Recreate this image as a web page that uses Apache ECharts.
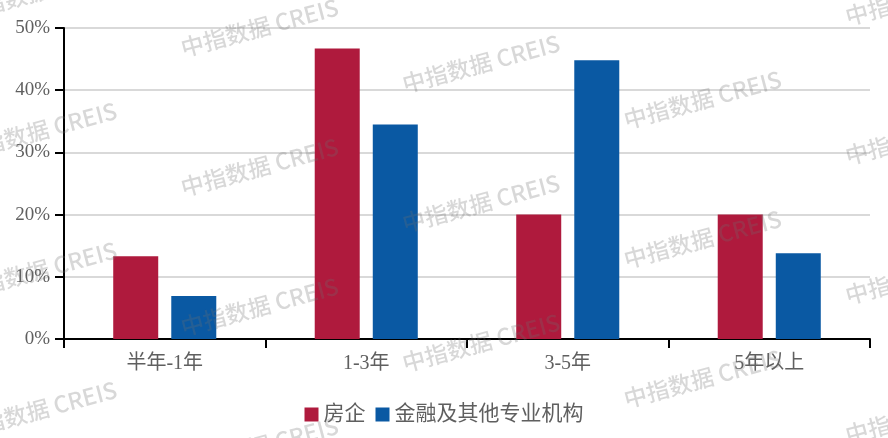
<!DOCTYPE html>
<html>
<head>
<meta charset="utf-8">
<script src="https://cdn.jsdelivr.net/npm/echarts@6/dist/echarts.min.js"></script>
<style>html,body{margin:0;padding:0;background:#fff}#c{width:888px;height:438px}</style>
</head>
<body>
<div id="c"></div>
<script>
const categories = ['半年-1年', '1-3年', '3-5年', '5年以上'];
const seriesNames = ['房企', '金融及其他专业机构'];
const developerValues = [13.3, 46.7, 20.0, 20.0];
const financeValues = [6.9, 34.5, 44.8, 13.8];
const yTicks = [0, 10, 20, 30, 40, 50];
const watermarkText = '中指数据 CREIS';

const chart = echarts.init(document.getElementById('c'), null, {renderer: 'canvas'});

const marks = [];
for (let col = 0; col < 5; col++) {
  for (let row = -1; row < 4; row++) {
    const cx = 38 + 221.5 * col;
    const cy = 27.5 + 36 * (col - 1) + 139.5 * row;
    marks.push({
      type: 'text', x: cx, y: cy, rotation: 15 * Math.PI / 180, z: 100, silent: true,
      style: {text: watermarkText, x: 0, y: 0, align: 'center', verticalAlign: 'middle',
        fill: 'rgba(110,110,110,0.27)', font: '500 23px "Noto Sans CJK SC", "Noto Sans", sans-serif'}
    });
  }
}

const serifFont = '"Liberation Serif", "Noto Sans CJK SC", serif';

chart.setOption({
  animation: false,
  backgroundColor: '#fff',
  grid: {left: 64, right: 18, top: 28, bottom: 99, containLabel: false},
  legend: {
    data: seriesNames, bottom: 8, left: 'center', icon: 'rect', itemWidth: 14, itemHeight: 14, itemGap: 10,
    textStyle: {fontFamily: serifFont, fontSize: 21, color: '#5f5f5f'}
  },
  xAxis: {
    type: 'category', data: categories,
    axisLine: {lineStyle: {color: '#000', width: 2}},
    axisTick: {show: true, length: 9, lineStyle: {color: '#000', width: 2}},
    axisLabel: {fontFamily: serifFont, fontSize: 20, color: '#5f5f5f', margin: 15}
  },
  yAxis: {
    type: 'value', min: yTicks[0], max: yTicks[yTicks.length - 1], interval: 10,
    axisLine: {show: true, lineStyle: {color: '#000', width: 2}},
    axisTick: {show: true, length: 9, lineStyle: {color: '#000', width: 2}},
    axisLabel: {formatter: '{value}%', fontFamily: serifFont, fontSize: 19, color: '#5f5f5f', margin: 14},
    splitLine: {lineStyle: {color: '#d9d9d9', width: 2}}
  },
  series: [
    {name: seriesNames[0], type: 'bar', data: developerValues, barWidth: 45, barGap: '29%', itemStyle: {color: '#AF1A3D'}},
    {name: seriesNames[1], type: 'bar', data: financeValues, barWidth: 45, barGap: '29%', itemStyle: {color: '#0A59A3'}}
  ],
  graphic: {elements: marks}
});
</script>
</body>
</html>
